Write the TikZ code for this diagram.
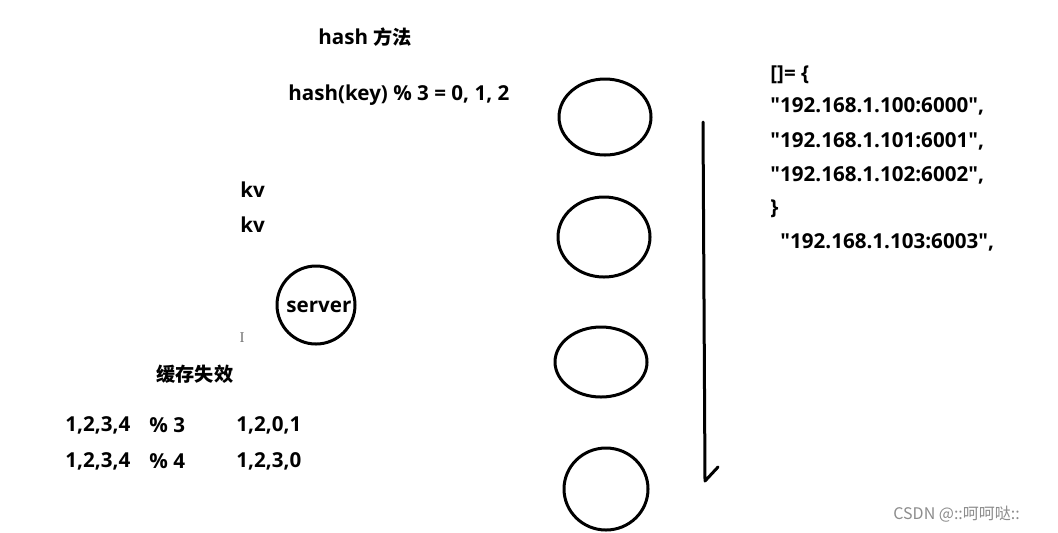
\documentclass[tikz,border=0pt]{standalone}
\usepackage{fontspec}
\setmainfont{Open Sans}[Ligatures=TeXOff]
\newfontfamily\cjk{Noto Sans CJK SC}
\newfontfamily\seriffam{Liberation Serif}
\newcommand\zh[1]{{\cjk\fontsize{9.6}{10}\selectfont #1}}
\begin{document}
\begin{tikzpicture}[x=0.5pt,y=-0.5pt,
  txt/.style={anchor=west,inner sep=0pt,font=\fontsize{10.3}{11}\selectfont\bfseries},
  ring/.style={draw,line width=1.5pt},
  stroke/.style={draw,line width=1.5pt,line cap=round,line join=round}]
\useasboundingbox (0,0) rectangle (1058,532);
% titles
\node[txt] (title) at (318,37) {hash \zh{方法}};
\node[txt] (formula) at (288,95) {hash(key) \% 3 = 0, 1, 2};
\node[txt] (kv1) at (240,190) {kv};
\node[txt] (kv2) at (240,225) {kv};
% server
\node[ring,circle,minimum size=39pt,inner sep=0pt] (srv) at (316,305) {};
\node[txt] (srvtxt) at (286,307) {server};
\node[anchor=center,inner sep=0pt,text=black!55,font=\seriffam\fontsize{7.5}{8}\selectfont] (cursor) at (242,338) {I};
% cache invalidation
\node[txt] (cache) at (156,374) {\zh{缓存失效}};
\node[txt] (a1) at (65,425) {1,2,3,4};
\node[txt] (b1) at (149,425) {\% 3};
\node[txt] (c1) at (236,425) {1,2,0,1};
\node[txt] (a2) at (65,461) {1,2,3,4};
\node[txt] (b2) at (149,461) {\% 4};
\node[txt] (c2) at (236,461) {1,2,3,0};
% servers
\draw[ring] (605,117) ellipse [x radius=46, y radius=38];
\draw[ring] (604,237) ellipse [x radius=46, y radius=40];
\draw[ring] (601,362) ellipse [x radius=46, y radius=35];
\draw[ring] (606,489) ellipse [x radius=42, y radius=41];
% arrow line
\coordinate (ltop) at (703,122);
\coordinate (lbot) at (705,481);
\coordinate (ltip) at (718,467);
\draw[stroke] (ltop) -- (lbot) -- (ltip);
% list
\node[txt] (l0) at (770,75) {[]= \{};
\node[txt] (l1) at (770,106) {"192.168.1.100:6000",};
\node[txt] (l2) at (770,141) {"192.168.1.101:6001",};
\node[txt] (l3) at (770,175) {"192.168.1.102:6002",};
\node[txt] (l4) at (770,209) {\}};
\node[txt] (l5) at (780,242) {"192.168.1.103:6003",};
% watermark
\node[anchor=west,inner sep=0pt,text=black!45,font=\cjk\fontsize{8}{9}\selectfont] (wm) at (893,514) {CSDN @::呵呵哒::};
\end{tikzpicture}
\end{document}
